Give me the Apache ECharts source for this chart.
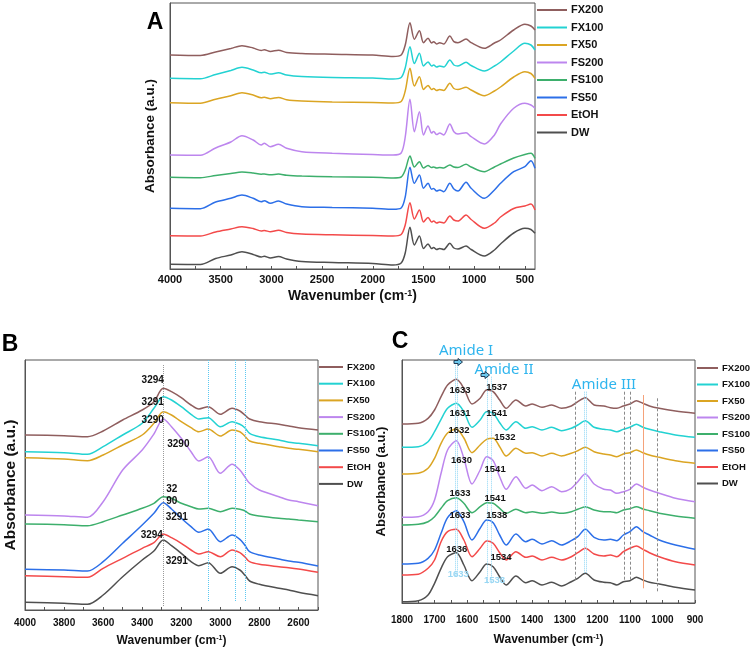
<!DOCTYPE html>
<html>
<head>
<meta charset="utf-8">
<script src="https://cdn.jsdelivr.net/npm/echarts@6/dist/echarts.min.js"></script>
<style>
  html, body { margin: 0; background: #fff; }
  #chart { width: 753px; height: 651px; }
</style>
</head>
<body>
<div id="chart"></div>
<script>
// sample names, top to bottom in every legend
const names = ['FX200', 'FX100', 'FX50', 'FS200', 'FS100', 'FS50', 'EtOH', 'DW'];
const colors = ['#8f5e5e', '#23d2d2', '#dba523', '#bd86ee', '#3daf6c', '#2c6fe8', '#f34a4a', '#4f4f4f'];

// panel A: full spectrum (absorbance offset, arbitrary units)
const waveA = [4000, 3700, 3550, 3400, 3290, 3180, 3100, 3070, 3010, 2930, 2850, 2700, 2400, 2000, 1800, 1720, 1680, 1633, 1590, 1540, 1500, 1455, 1420, 1400, 1370, 1340, 1300, 1240, 1200, 1160, 1080, 1030, 900, 800, 740, 610, 500, 440, 400];
const fx200A = [214, 213.5, 217, 220.5, 223.3, 221, 218.5, 219.2, 217.5, 218.8, 216.5, 215.5, 214.8, 214, 212.5, 214, 224, 246.3, 229.7, 238.3, 226.3, 230.7, 226, 227.3, 225, 226.3, 225, 233, 227.3, 226.3, 230, 226.3, 220.7, 226, 229, 239, 244.7, 243, 239];
const fx100A = [190.7, 190.3, 194.5, 198.5, 201.7, 199, 196.2, 196.8, 195, 196.2, 194, 192.5, 191.5, 191, 190, 191.5, 201, 222.3, 205.5, 215.7, 203, 207, 203, 204, 202, 203, 202, 209, 204, 203, 206.7, 203.5, 198, 203, 207, 218, 225.7, 224, 219];
const fx50A = [166.3, 165.8, 169.8, 173.3, 176.3, 174, 171.3, 171.8, 170.3, 171.5, 169.3, 168, 167, 166.5, 166, 167.5, 178, 200.7, 183, 192.3, 179.5, 183.5, 179.5, 180.5, 178.5, 179.5, 178.5, 185.7, 180.5, 179.5, 181.7, 179, 173.3, 178, 182, 192, 197.3, 195.5, 190.7];
const fs200A = [114, 113.7, 121, 127, 133.3, 129, 124, 125.7, 122.3, 124.7, 120.7, 117.3, 115.7, 114.5, 114, 116, 132, 169.7, 137.3, 157.3, 134, 143, 136, 137.5, 134.5, 136, 134, 145, 137.3, 135, 136.3, 132.3, 125, 134, 145, 160.7, 165.7, 164, 160.7];
const fs100A = [91.7, 91.3, 93.5, 95.5, 97, 96, 94.8, 95, 94.2, 95, 93.8, 93, 92.3, 91.8, 91, 92, 99, 113, 102, 107.3, 101, 103.5, 101.5, 102, 101, 101.5, 101, 104, 102, 101.5, 104.7, 102, 97.3, 102, 105, 111, 114.5, 115.7, 110.7];
const fs50A = [60.7, 60.3, 67, 70.7, 74, 70.7, 67.3, 68.3, 65.7, 68, 65, 62.3, 61.5, 60.7, 59.7, 61, 72, 101.7, 85.7, 94, 80.7, 85.7, 79.7, 80.5, 78, 79, 77.3, 85.7, 80, 78, 86.7, 80.7, 70.7, 79, 85.7, 97.3, 102.3, 108.3, 100.7];
const etohA = [33.3, 33, 37, 40, 42.3, 40.5, 38, 38.5, 37.3, 38.8, 36.5, 35, 34.2, 33.5, 33, 34.5, 44, 66.3, 50, 59, 47, 51.5, 47, 48, 46, 47, 46, 53, 49, 48, 54, 49.5, 40.7, 46, 52, 60.5, 63, 65, 59];
const dwA = [4.7, 4.5, 10.5, 14, 17.3, 14.5, 12, 12.7, 11, 12.5, 10, 7.5, 6.5, 5.5, 4, 6, 16, 41.7, 24, 33, 20.5, 25, 20.5, 21.5, 19.5, 20.5, 19.5, 25.7, 21, 20, 23, 19.5, 13, 19, 25, 36, 40.7, 39.5, 35.7];
const labelsA = [500, 1000, 1500, 2000, 2500, 3000, 3500, 4000];
const ticksA = [500, 750, 1000, 1250, 1500, 1750, 2000, 2250, 2500, 2750, 3000, 3250, 3500, 3750, 4000];

// panel B: 4000-2500 region
const waveB = [4000, 3800, 3680, 3600, 3500, 3400, 3340, 3292, 3250, 3200, 3150, 3110, 3062, 3000, 2940, 2900, 2875, 2850, 2800, 2700, 2650, 2600, 2500];
const fx200B = [175, 174.3, 173.3, 179, 190, 200, 208.3, 221.7, 218.3, 212.3, 205, 201, 203.3, 195.7, 201.7, 199, 195, 191, 188.3, 185.7, 184, 182.3, 180];
const fx100B = [158.3, 157.3, 155.7, 163.3, 175, 186.7, 201.7, 213.3, 210, 203.3, 195.7, 191, 192.3, 183.3, 188.3, 185.7, 182.3, 176.7, 173.3, 170, 167.7, 166.7, 164.3];
const fx50B = [152.3, 151, 149.3, 155, 165, 175, 186.7, 198.3, 195, 188.3, 182.3, 178.3, 181, 174, 180, 178.3, 174, 169, 166.7, 163.3, 161.7, 160.7, 158.3];
const fs200B = [95, 94, 92.7, 108.3, 140, 160, 176, 191, 183.3, 171.7, 158.3, 149, 153.3, 136.7, 145.7, 140, 133.3, 126.7, 120, 113.3, 110, 108.3, 104.3];
const fs100B = [86, 85.3, 84.3, 88.3, 95, 101.7, 106.7, 113.3, 111.7, 106.7, 103.3, 101, 101.7, 98.3, 101.7, 100.7, 99.3, 96, 94, 91.7, 91, 90, 88.3];
const fs50B = [40.7, 40, 39, 48.3, 66.7, 85, 96.7, 107.3, 101, 91.7, 83.3, 77.7, 81, 68.3, 75, 70.7, 65, 58.3, 55, 51, 49, 47.7, 44];
const etohB = [34.3, 33.3, 32.7, 41.7, 51.7, 61.7, 67.3, 76, 72.3, 66.7, 60, 56, 58.3, 53.3, 60, 57.3, 53.3, 48.3, 45.7, 43.3, 42.3, 41, 37.7];
const dwB = [7.7, 6.7, 5.7, 15, 33.3, 50, 59, 70, 64.3, 56.7, 48.3, 44.3, 47.3, 36.7, 43.3, 40, 35, 29, 25.7, 21.7, 20, 17.7, 14.3];
const labelsB = [4000, 3800, 3600, 3400, 3200, 3000, 2800, 2600];
const ticksB = [4000, 3900, 3800, 3700, 3600, 3500, 3400, 3300, 3200, 3100, 3000, 2900, 2800, 2700, 2600, 2500];
const peaksB = [[3346, 230, '3294'], [3346, 207.3, '3291'], [3346, 189.3, '3290'], [3215, 165.7, '3290'], [3249, 120.7, '32'], [3249, 108.3, '90'], [3223, 92.7, '3291'], [3351, 75, '3294'], [3223, 48.3, '3291']];
const guidesB = [[3292, 245, 3], [3062, 250, 8], [2922, 250, 8], [2872, 250, 8]];

// panel C: 1800-900 region
const waveC = [1800, 1750, 1720, 1700, 1680, 1660, 1633, 1610, 1585, 1560, 1540, 1520, 1500, 1480, 1450, 1420, 1400, 1370, 1340, 1310, 1280, 1260, 1237, 1210, 1180, 1160, 1140, 1120, 1100, 1080, 1060, 1040, 1010, 960, 900];
const fx200C = [179, 179.7, 184.7, 193, 206.3, 218, 223.7, 214.7, 199, 204.7, 213, 211.3, 203, 194.7, 203, 197, 199, 195.7, 198, 194.7, 197, 201.3, 205.3, 198, 197, 195.3, 194.7, 197, 199, 202.3, 199.7, 197, 194.7, 192, 189.7];
const fx100C = [155.7, 156.3, 161.3, 171.3, 183.7, 194.7, 199.7, 191.3, 175.7, 183, 191.3, 189.7, 180.3, 173, 181.3, 174.7, 176.3, 173, 175.7, 172.3, 174.7, 178, 182.3, 175.7, 173.7, 173, 171.3, 173.7, 175.7, 178.7, 175.7, 173.7, 171.3, 168, 165.7];
const fx50C = [129, 129.7, 134.7, 144.7, 159.7, 170, 174, 165, 150.3, 158, 163.7, 164.7, 156.3, 147, 154.7, 149.7, 150.3, 147, 149.7, 147, 149.7, 152.3, 155.7, 151.3, 149, 148, 146.3, 149, 150.3, 153, 150.3, 148, 145.7, 142.3, 139.7];
const fs200C = [85.7, 86.3, 91.3, 103, 129.7, 153, 162.3, 144.7, 119, 133, 146.3, 142.3, 126.3, 113.7, 126.3, 114.7, 118, 112.3, 116.3, 111.3, 114.7, 121.3, 129, 119, 113.7, 113, 109.7, 111.3, 113.7, 119, 115.7, 113, 109.7, 104.7, 101.3];
const fs100C = [78, 78.7, 81.3, 86.3, 94.7, 102.3, 105.3, 99.7, 90.3, 96.3, 100.3, 99.7, 94.7, 89.7, 93.7, 90.3, 91.3, 89.7, 91, 89.7, 91.3, 93.7, 96.3, 93, 91.3, 91.3, 90.3, 93, 94.3, 96.3, 94, 92.3, 89.7, 87, 84.7];
const fs50C = [39, 39.7, 44.7, 53, 69.7, 85.3, 92.3, 81.3, 63, 74.7, 83, 80.3, 68, 58, 69, 61.3, 63.7, 59, 62.3, 58, 62.3, 66.3, 73.7, 65.7, 63, 63.7, 62.3, 68, 71.3, 76.3, 71.3, 68, 63, 58, 53.7];
const etohC = [28, 28.7, 34.7, 43, 61.3, 71.3, 73.7, 63, 46.3, 54.7, 62, 59.7, 50.3, 43, 51.3, 45.7, 47, 43, 45.7, 43, 46.3, 50.3, 54.7, 49, 47, 48, 46.3, 51.3, 54.7, 57, 53.7, 50.3, 46.3, 41.3, 38];
const dwC = [1.3, 2.3, 8, 19.7, 34.7, 46.3, 50.3, 38, 22.3, 31.3, 39, 36.3, 26.3, 18, 27, 20.3, 22.3, 18, 20.7, 17, 21.3, 24.7, 29.7, 23, 20.7, 20.3, 18, 21.3, 22.3, 25.7, 23, 20.7, 19, 15.7, 13];
const labelsC = [1800, 1700, 1600, 1500, 1400, 1300, 1200, 1100, 1000, 900];
const ticksC = [1800, 1750, 1700, 1650, 1600, 1550, 1500, 1450, 1400, 1350, 1300, 1250, 1200, 1150, 1100, 1050, 1000, 950, 900];
const peaksC = [[1622, 213, '1633'], [1509, 215.7, '1537'], [1622, 189.7, '1631'], [1509, 189.7, '1541'], [1625, 172.3, '1632'], [1484, 165.7, '1532'], [1617, 142.3, '1630'], [1514, 133.7, '1541'], [1622, 109.7, '1633'], [1514, 104.7, '1541'], [1622, 87.3, '1633'], [1509, 87.3, '1538'], [1632, 53.7, '1636'], [1496, 45.7, '1534']];
const peaksC2 = [[1627, 29, '1633'], [1516, 22.3, '1538']];
const guidesCyanC = [[1637, 239.7, 26.3], [1629, 239.7, 26.3], [1537, 226.3, 19.7], [1527, 226.3, 19.7], [1239, 211.3, 29.7], [1233, 211.3, 29.7]];
const guidesGrayC = [[1269, 211.3, 21.3], [1117, 211.3, 21.3], [1099, 211.3, 21.3], [1016, 204.7, 11.3]];
const guidesOrangeC = [[1059, 208, 14.7]];

const FONT = 'Liberation Sans';
const CYAN = '#5cc8f2';

const panels = [
  { wave: waveA, sets: [fx200A, fx100A, fx50A, fs200A, fs100A, fs50A, etohA, dwA] },
  { wave: waveB, sets: [fx200B, fx100B, fx50B, fs200B, fs100B, fs50B, etohB, dwB] },
  { wave: waveC, sets: [fx200C, fx100C, fx50C, fs200C, fs100C, fs50C, etohC, dwC] }
];

const chart = echarts.init(document.getElementById('chart'), null, { renderer: 'canvas' });

function xAxisFor(g, min, max, labels, ticks, fontSize, margin, nameSize, nameGap) {
  return {
    gridIndex: g, type: 'value', inverse: true, min: min, max: max,
    axisLine: { show: true, lineStyle: { color: '#555', width: 1 } },
    axisTick: { show: true, inside: true, length: 3, customValues: ticks, lineStyle: { color: '#555' } },
    axisLabel: {
      customValues: labels, formatter: v => String(v),
      fontFamily: FONT, fontWeight: 'bold', fontSize: fontSize, color: '#111', margin: margin
    },
    splitLine: { show: false },
    name: 'Wavenumber (cm{sup|-1})', nameLocation: 'middle', nameGap: nameGap,
    nameTextStyle: {
      fontFamily: FONT, fontWeight: 'bold', fontSize: nameSize, color: '#111',
      rich: { sup: { fontFamily: FONT, fontWeight: 'bold', fontSize: Math.round(nameSize * 0.62), verticalAlign: 'top', color: '#111' } }
    }
  };
}
function yAxisFor(g, max, nameSize, nameGap) {
  return {
    gridIndex: g, type: 'value', min: 0, max: max,
    axisLine: { show: true, lineStyle: { color: '#555' } },
    axisTick: { show: false }, axisLabel: { show: false }, splitLine: { show: false },
    name: 'Absorbance (a.u.)', nameLocation: 'middle', nameGap: nameGap,
    nameTextStyle: { fontFamily: FONT, fontWeight: 'bold', fontSize: nameSize, color: '#111' }
  };
}
function legendFor(left, top, itemWidth, gap, fontSize) {
  return {
    data: names, orient: 'vertical', left: left, top: top, icon: 'rect', padding: 0,
    itemWidth: itemWidth, itemHeight: 2, itemGap: gap, selectedMode: false,
    textStyle: { fontFamily: FONT, fontWeight: 'bold', fontSize: fontSize, color: '#111', padding: [0, 0, 0, -1] }
  };
}

const series = [];
panels.forEach((p, g) => {
  p.sets.forEach((vals, i) => {
    series.push({
      name: names[i], type: 'line', xAxisIndex: g, yAxisIndex: g,
      data: p.wave.map((w, k) => [w, vals[k]]),
      smooth: 0.3, symbol: 'none', silent: true,
      lineStyle: { width: 1.5, color: colors[i] },
      itemStyle: { color: colors[i] }
    });
  });
});

function guideLines(list, color, type) {
  return list.map(d => [
    { coord: [d[0], d[1]], lineStyle: { color: color, type: type, width: 1 } },
    { coord: [d[0], d[2]] }
  ]);
}
function peakSeries(name, g, list, color, fontSize, lines) {
  const s = {
    name: name, type: 'scatter', xAxisIndex: g, yAxisIndex: g,
    symbolSize: 0, itemStyle: { color: 'rgba(0,0,0,0)' }, silent: true, z: 20,
    data: list.map(d => ({ name: d[2], value: [d[0], d[1]] })),
    label: {
      show: true, position: 'inside', formatter: '{b}', opacity: 1,
      fontFamily: FONT, fontWeight: 'bold', fontSize: fontSize, color: color
    }
  };
  if (lines) {
    s.markLine = { silent: true, symbol: 'none', label: { show: false }, animation: false, data: lines };
  }
  return s;
}
series.push(peakSeries('peaksB', 1, peaksB, '#111', 10,
  guideLines(guidesB.slice(0, 1), '#9a9a9a', 'dotted').concat(guideLines(guidesB.slice(1), CYAN, 'dotted'))));
series.push(peakSeries('peaksC', 2, peaksC, '#111', 9.5,
  guideLines(guidesGrayC, '#8a8a8a', [3, 2]).concat(guideLines(guidesOrangeC, '#f5a27a', 'solid'), guideLines(guidesCyanC, '#8fd6f5', 'dotted'))));
series.push(peakSeries('peaksC2', 2, peaksC2, '#9ad7f3', 9.5, null));

function arrow(x, y) {
  return {
    type: 'polygon', x: x, y: y, z: 100,
    shape: { points: [[-4, -1.5], [0, -1.5], [0, -3.5], [4.5, 0], [0, 3.5], [0, 1.5], [-4, 1.5]] },
    style: { fill: '#6cc9ee', stroke: '#1f3b55', lineWidth: 1 }
  };
}
function text(x, y, str, size, weight, color, family) {
  return {
    type: 'text', x: x, y: y, z: 100,
    style: { text: str, fontSize: size, fontWeight: weight, fill: color, fontFamily: family, align: 'center', verticalAlign: 'middle' }
  };
}

chart.setOption({
  animation: false,
  backgroundColor: '#fff',
  grid: [
    { left: 170, top: 3, width: 365, height: 266, show: true, borderColor: '#555', borderWidth: 1 },
    { left: 25, top: 360, width: 293, height: 250, show: true, borderColor: '#555', borderWidth: 1 },
    { left: 402, top: 360, width: 293, height: 243, show: true, borderColor: '#555', borderWidth: 1 }
  ],
  xAxis: [
    xAxisFor(0, 400, 4000, labelsA, ticksA, 11, 5, 14, 20),
    xAxisFor(1, 2500, 4000, labelsB, ticksB, 10, 8, 12, 25),
    xAxisFor(2, 900, 1800, labelsC, ticksC, 10, 12, 12, 31)
  ],
  yAxis: [
    yAxisFor(0, 266, 13.5, 13),
    yAxisFor(1, 250, 15.5, 6),
    yAxisFor(2, 243, 13, 14)
  ],
  legend: [
    legendFor(537, 4.5, 30, 6.5, 11),
    legendFor(319, 362, 24, 6.7, 9.5),
    legendFor(697, 363, 21, 6.5, 9.5)
  ],
  graphic: [
    text(155, 23, 'A', 23, 'bold', '#000', FONT),
    text(10, 345, 'B', 23, 'bold', '#000', FONT),
    text(400, 342, 'C', 23, 'bold', '#000', FONT),
    text(466, 351, 'Amide I', 15, 'normal', '#2fb5ee', 'Noto Sans'),
    text(504, 370, 'Amide II', 15, 'normal', '#2fb5ee', 'Noto Sans'),
    text(604, 385, 'Amide III', 15, 'normal', '#2fb5ee', 'Noto Sans'),
    arrow(458, 362),
    arrow(485, 375)
  ],
  series: series
});
</script>
</body>
</html>
